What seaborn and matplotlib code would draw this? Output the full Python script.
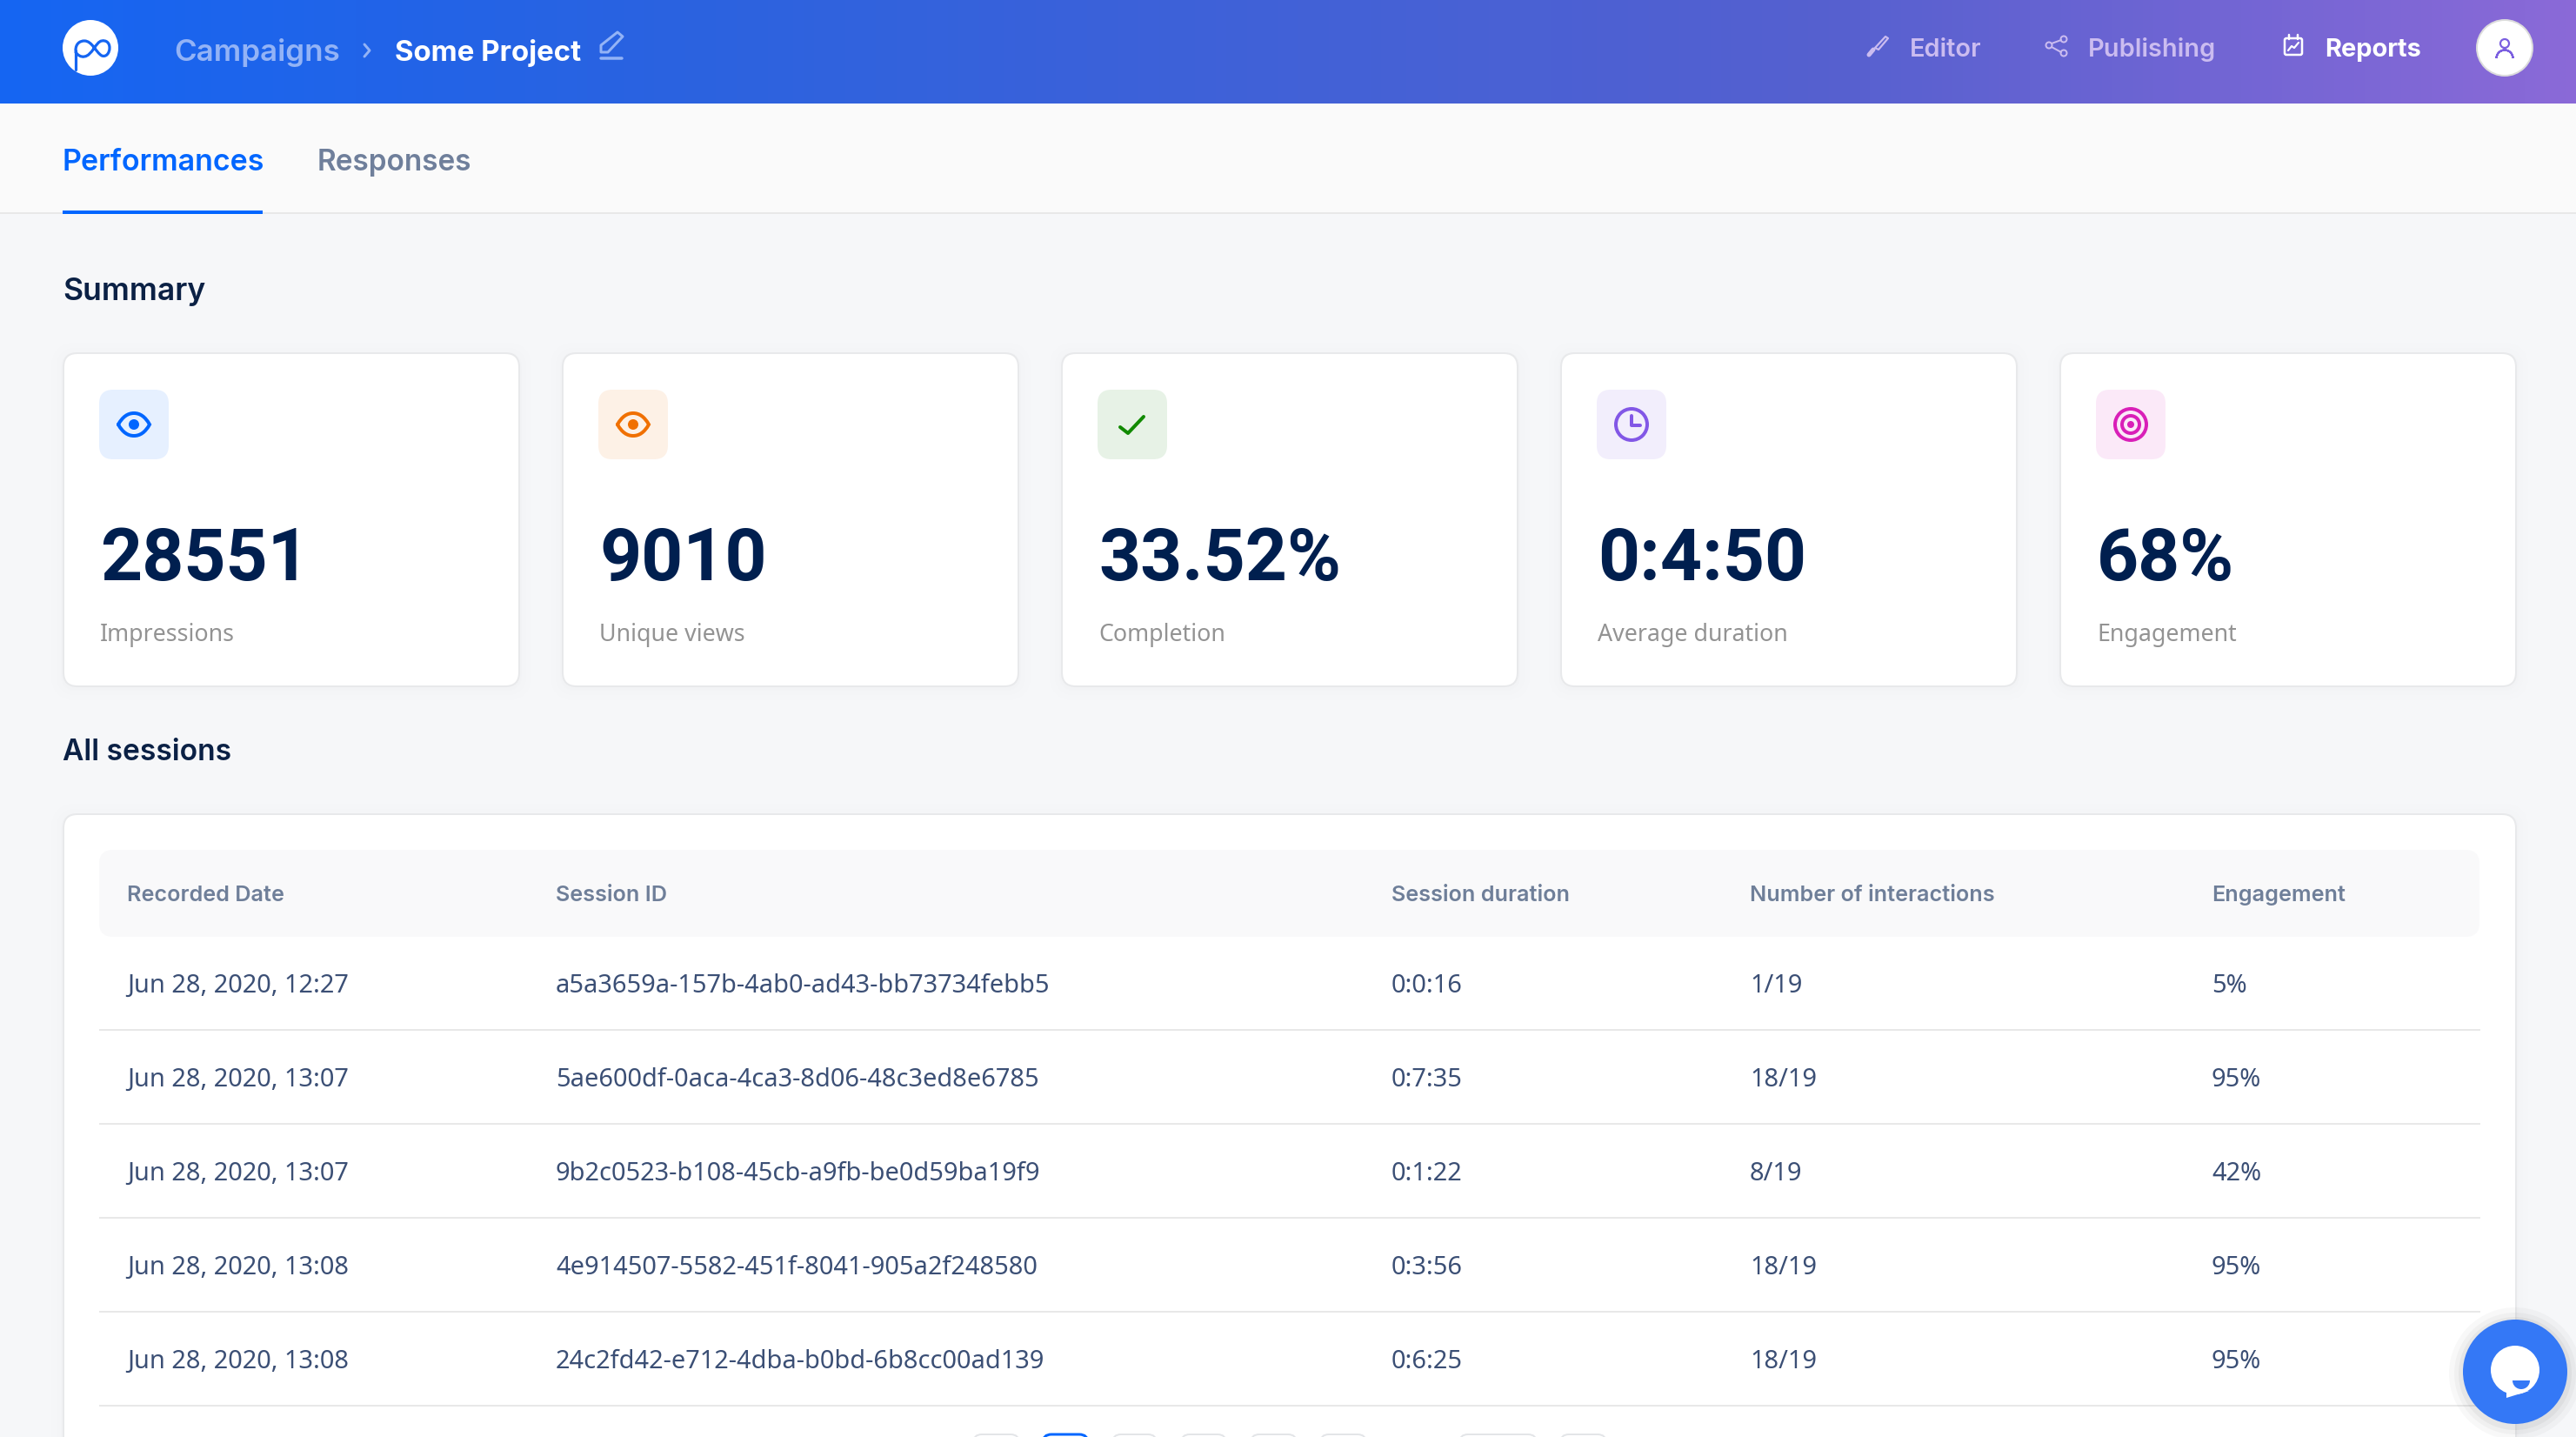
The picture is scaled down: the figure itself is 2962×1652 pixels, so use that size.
import numpy as np
import matplotlib
matplotlib.use('Agg')
import matplotlib.pyplot as plt
import seaborn as sns
from matplotlib.colors import LinearSegmentedColormap
from matplotlib.patches import Circle, FancyBboxPatch, PathPatch, Polygon, Wedge
from matplotlib.path import Path

W, H = 2962, 1652
HEAD_FONT = 'Inter'
BODY_FONT = 'Noto Sans'
NUM_FONT = 'Roboto'
PX = 0.72  # points per pixel at dpi 100

header_stops = ['#1565f2', '#2b62df', '#5560cf', '#8a69d7']

summary_values = ['28551', '9010', '33.52%', '0:4:50', '68%']
summary_labels = ['Impressions', 'Unique views', 'Completion', 'Average duration', 'Engagement']
tile_colors = ['#e6f0ff', '#fdf1e6', '#e7f2e6', '#f2eefc', '#fbe9f8']
icon_colors = ['#0066ff', '#f07000', '#118a00', '#8257e6', '#d91fb8']

table_headers = ['Recorded Date', 'Session ID', 'Session duration', 'Number of interactions', 'Engagement']
dates = ['Jun 28, 2020, 12:27', 'Jun 28, 2020, 13:07', 'Jun 28, 2020, 13:07',
         'Jun 28, 2020, 13:08', 'Jun 28, 2020, 13:08']
session_ids = ['a5a3659a-157b-4ab0-ad43-bb73734febb5', '5ae600df-0aca-4ca3-8d06-48c3ed8e6785',
               '9b2c0523-b108-45cb-a9fb-be0d59ba19f9', '4e914507-5582-451f-8041-905a2f248580',
               '24c2fd42-e712-4dba-b0bd-6b8cc00ad139']
durations = ['0:0:16', '0:7:35', '0:1:22', '0:3:56', '0:6:25']
interactions = ['1/19', '18/19', '8/19', '18/19', '18/19']
engagement = ['5%', '95%', '42%', '95%', '95%']

sns.set_theme(style='white')
plt.rcParams['font.family'] = [BODY_FONT, 'DejaVu Sans']

fig = plt.figure(figsize=(W / 100, H / 100), dpi=100, facecolor='#f6f7f9')

# gradient top bar
bar_ax = fig.add_axes([0, 1 - 119 / H, 1, 119 / H], zorder=1)
cmap = LinearSegmentedColormap.from_list('bar', list(zip([0, 0.27, 0.71, 1], header_stops)))
sns.heatmap(np.linspace(0, 1, 500)[None, :], cmap=cmap, cbar=False, xticklabels=False,
            yticklabels=False, ax=bar_ax)

ax = fig.add_axes([0, 0, 1, 1], zorder=2)
ax.set_xlim(0, W)
ax.set_ylim(H, 0)
ax.axis('off')
ax.patch.set_visible(False)


def box(x, y, w, h, r, fc, ec='none', lw=0, z=1, alpha=None):
    ax.add_patch(FancyBboxPatch((x, y), w, h, boxstyle=f'round,pad=0,rounding_size={r}',
                                fc=fc, ec=ec, lw=lw * PX, zorder=z, alpha=alpha))


def label(x, y, s, px, color, font=BODY_FONT, weight='normal', **kw):
    ax.text(x, y, s, fontsize=px * PX, color=color, family=font, weight=weight,
            va='baseline', ha='left', zorder=6, **kw)


def stroke(pts, color, lw, z=5):
    xs, ys = zip(*pts)
    ax.plot(xs, ys, color=color, lw=lw * PX, solid_capstyle='round', solid_joinstyle='round', zorder=z)


def curve(verts, color, lw, closed=False, z=5, fc='none'):
    codes = [Path.MOVETO] + [Path.CURVE4] * (len(verts) - 1)
    if closed:
        verts = verts + [verts[0]]
        codes = codes + [Path.CLOSEPOLY]
    ax.add_patch(PathPatch(Path(verts, codes), fc=fc, ec=color, lw=lw * PX, zorder=z, capstyle='round'))


def ring(cx, cy, r, color, lw):
    ax.add_patch(Circle((cx, cy), r, fc='none', ec=color, lw=lw * PX, zorder=5))


def dot(cx, cy, r, color, z=5):
    ax.add_patch(Circle((cx, cy), r, fc=color, ec='none', zorder=z))


# page bands
ax.add_patch(plt.Rectangle((0, 119), W, 126, fc='#fafafa', ec='none', zorder=0))
ax.hlines(245, 0, W, color='#e8e8e8', lw=2 * PX, zorder=1)
ax.add_patch(plt.Rectangle((72, 242), 230, 4, fc='#0066ff', ec='none', zorder=2))

# top bar left
PALE = '#93b3f6'
dot(104, 55, 32, 'white')
stroke([(87, 80), (87, 58)], '#1565f2', 3.2)
curve([(87, 58), (87, 50), (92, 47), (97, 47), (106, 47), (110, 60), (117, 64), (122, 66), (126, 61), (126, 55),
       (126, 49), (122, 46), (117, 47), (110, 48), (106, 64), (97, 65), (93, 66), (89, 63), (87, 60)],
      '#1565f2', 3.2)
label(200, 70, 'Campaigns', 35, PALE, HEAD_FONT, 'semibold')
stroke([(419, 51), (425, 58), (419, 65)], PALE, 3)
label(454, 70, 'Some Project', 33, 'white', HEAD_FONT, 'bold')
ax.add_patch(Polygon([(691, 60), (699, 60), (716, 42), (710, 37), (691, 52)], closed=True, fc='none', ec=PALE,
                     lw=3 * PX, zorder=5, joinstyle='round'))
stroke([(691, 67), (715, 67)], PALE, 3.5)

# top bar right
MUTED = '#cbbcf0'
label(2196, 65, 'Editor', 29, MUTED, HEAD_FONT, 'semibold')
label(2401, 65, 'Publishing', 29, MUTED, HEAD_FONT, 'semibold')
label(2673, 65, 'Reports', 29, 'white', HEAD_FONT, 'bold')
ax.add_patch(Polygon([(2168, 42), (2171, 44), (2160, 57), (2156, 55)], closed=True, fc='none', ec=MUTED,
                     lw=2.2 * PX, zorder=5, joinstyle='round'))
stroke([(2154, 57), (2149, 63)], MUTED, 5)
for cx, cy in [(2373, 45), (2356, 52), (2373, 61)]:
    ring(cx, cy, 3.5, MUTED, 2)
stroke([(2359, 50), (2370, 46)], MUTED, 2)
stroke([(2359, 54), (2370, 60)], MUTED, 2)
box(2627, 44, 20, 19, 2, 'none', 'white', 2.5, z=5)
stroke([(2632, 40), (2632, 45)], 'white', 2.5)
stroke([(2642, 40), (2642, 45)], 'white', 2.5)
stroke([(2631, 58), (2635, 53), (2638, 55), (2643, 49)], 'white', 2.2)
ax.add_patch(Circle((2880, 55), 32, fc='white', ec='#dcdcdc', lw=2 * PX, zorder=5))
ring(2880, 50, 5, '#7b5fe0', 2.2)
ax.add_patch(Wedge((2880, 67), 9.5, 180, 360, width=0, fc='none', ec='#7b5fe0', lw=2.2 * PX, zorder=5))

# tabs and section titles
label(71, 196, 'Performances', 34, '#0066ff', HEAD_FONT, 'semibold')
label(365, 196, 'Responses', 33.3, '#6f7f9b', HEAD_FONT, 'semibold')
label(72, 345, 'Summary', 35.5, '#0b2145', HEAD_FONT, 'semibold')
label(72, 874, 'All sessions', 33.5, '#0b2145', HEAD_FONT, 'semibold')

# summary cards
card_lefts = [73, 647, 1221, 1795, 2369]
for i, left in enumerate(card_lefts):
    for grow, a in [(14, 0.10), (8, 0.16), (3, 0.25)]:
        box(left - grow, 406 - grow + 2, 524 + 2 * grow, 383 + 2 * grow, 16 + grow, '#eff0f3', z=1, alpha=a)
    box(left, 406, 524, 383, 16, 'white', '#e8e9eb', 2, z=2)
    box(left + 41, 448, 80, 80, 16, tile_colors[i], z=3)
    label(left + 42, 667, summary_values[i], 84, '#001f4f', NUM_FONT, 'bold')
    label(left + 42, 737, summary_labels[i], 26.8, '#939393')

    cx, cy, c = left + 81, 488, icon_colors[i]
    if i < 2:
        curve([(cx - 18, cy), (cx - 13, cy - 9), (cx - 7, cy - 13), (cx, cy - 13), (cx + 7, cy - 13), (cx + 13, cy - 9),
               (cx + 18, cy), (cx + 13, cy + 9), (cx + 7, cy + 13), (cx, cy + 13), (cx - 7, cy + 13), (cx - 13, cy + 9),
               (cx - 18, cy)], c, 4)
        dot(cx, cy, 6, c)
    elif i == 2:
        stroke([(cx - 14, cy + 3), (cx - 5, cy + 10), (cx + 13, cy - 9)], c, 4)
    elif i == 3:
        ring(cx, cy, 18, c, 4)
        stroke([(cx, cy - 10), (cx, cy + 1), (cx + 10, cy + 1)], c, 4)
    else:
        ring(cx, cy, 18, c, 4)
        ring(cx, cy, 10, c, 4)
        dot(cx, cy, 4, c)

# sessions table
for grow, a in [(14, 0.10), (8, 0.16), (3, 0.25)]:
    box(73 - grow, 936 - grow + 2, 2820 + 2 * grow, 800, 16 + grow, '#eff0f3', z=1, alpha=a)
box(73, 936, 2820, 800, 16, 'white', '#e8e9eb', 2, z=2)
box(114, 977, 2737, 100, 16, '#f9f9fa', z=3)

col_lefts = [146, 639, 1600, 2012, 2543]
for x, head in zip(col_lefts, table_headers):
    label(x, 1036, head, 25.2, '#6f7f99', HEAD_FONT, 'semibold')

row_h = 108
for x, values in zip(col_lefts, [dates, session_ids, durations, interactions, engagement]):
    for r, value in enumerate(values):
        label(x, 1141 + r * row_h, value, 29, '#3b4f75')
for r in range(len(dates)):
    ax.hlines(1184 + r * row_h, 114, 2852, color='#e8e8e8', lw=2 * PX, zorder=3)

# pager, only the top edge is on screen
pager_lefts = [1119, 1199, 1279, 1358, 1438, 1518, 1678, 1794]
pager_widths = [53, 52, 51, 52, 53, 53, 89, 53]
for x, w in zip(pager_lefts, pager_widths):
    active = x == 1199
    box(x, 1649, w, 40, 10, 'white', '#0066ff' if active else '#e3e5e8', 3 if active else 2, z=3)

# chat button
for grow, a in [(16, 0.03), (10, 0.04), (5, 0.05)]:
    dot(2892, 1579, 60 + grow, '#333333', z=7)
    ax.patches[-1].set_alpha(a)
dot(2892, 1577, 60, '#3478f6', z=8)
dot(2892, 1575, 28, 'white', z=9)
ax.add_patch(Polygon([(2882, 1595), (2882, 1607), (2908, 1599)], closed=True, fc='white', ec='none', zorder=9))
ax.add_patch(Wedge((2899, 1587), 10, 0, 180, fc='#3478f6', ec='none', zorder=10))

fig.savefig('out.png', dpi=100, facecolor=fig.get_facecolor())
